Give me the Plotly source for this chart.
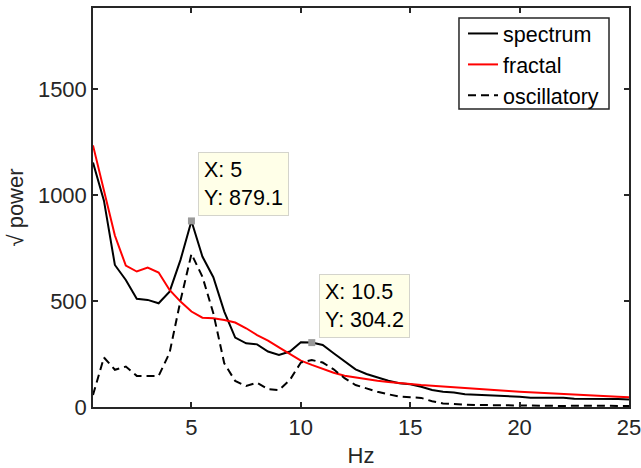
import plotly.graph_objects as go

freq = [0.5 * i for i in range(1, 51)]

spectrum = [1155, 975, 671, 600, 511, 506, 490, 545, 695, 879.1,
            711, 613, 451, 328, 301, 296, 262, 246, 262, 306,
            304.2, 293, 254, 214, 178, 156, 139, 124, 112, 107,
            96, 80, 72, 69, 60, 58, 55, 54, 52, 49,
            44, 44, 46, 44, 39, 39, 41, 39, 38, 36]

fractal = [1236, 1025, 810, 668, 640, 659, 635, 553, 498, 451,
           422, 419, 411, 399, 372, 340, 314, 282, 251, 219,
           199, 180, 162, 148, 139, 131, 124, 118, 112, 109,
           104, 100, 96, 93, 89, 85, 82, 79, 75, 72,
           69, 66, 63, 61, 58, 56, 53, 51, 48, 46]

oscillatory = [57, 234, 176, 191, 147, 147, 147, 256, 503, 723,
               616, 443, 206, 123, 99, 115, 84, 80, 128, 210,
               222, 210, 178, 136, 104, 88, 72, 60, 49, 46,
               43, 27, 17, 14, 10, 9, 9, 8, 8, 7,
               6, 6, 5, 5, 6, 6, 7, 6, 6, 5]

tip_indices = [9, 20]

x_ticks = [5, 10, 15, 20, 25]
y_ticks = [0, 500, 1000, 1500]

FONT = "Liberation Sans, Arial, Helvetica, sans-serif"
AX = "#262626"
FS = 22

fig = go.Figure()
fig.add_trace(go.Scatter(x=freq, y=spectrum, mode="lines", name="spectrum",
                         line=dict(color="black", width=2)))
fig.add_trace(go.Scatter(x=freq, y=fractal, mode="lines", name="fractal",
                         line=dict(color="#FF0000", width=2)))
fig.add_trace(go.Scatter(x=freq, y=oscillatory, mode="lines", name="oscillatory",
                         line=dict(color="black", width=2, dash="8px,5px")))

tx = [freq[i] for i in tip_indices]
ty = [spectrum[i] for i in tip_indices]
fig.add_trace(go.Scatter(x=tx, y=ty, mode="markers", showlegend=False,
                         marker=dict(symbol="square", size=7, color="#9A9A9A",
                                     line=dict(width=0))))

for xv, yv in zip(tx, ty):
    xs = f"{xv:g}"
    ys = f"{yv:.1f}"
    fig.add_annotation(x=xv, y=yv, xref="x", yref="y",
                       text=f"X: {xs}<br>Y: {ys}", showarrow=False,
                       xanchor="left", yanchor="bottom", align="left",
                       xshift=7, yshift=5,
                       bgcolor="#FFFFE8", bordercolor="#D4D4CC", borderwidth=1,
                       borderpad=5,
                       font=dict(family=FONT, size=21.5, color="black"))

# legend frame (MATLAB-style tight box)
fig.add_shape(type="rect", xref="paper", yref="paper",
              x0=0.6828, x1=0.9627, y0=0.7469, y1=0.975,
              line=dict(color="#262626", width=1.5), fillcolor="white",
              layer="above")

fig.update_layout(
    width=641, height=468,
    margin=dict(l=93, r=12, t=8, b=61, autoexpand=False),
    paper_bgcolor="white", plot_bgcolor="white",
    font=dict(family=FONT, size=FS, color=AX),
    showlegend=True,
    legend=dict(x=0.6903, y=0.9875, xanchor="left", yanchor="top",
                bgcolor="rgba(0,0,0,0)", borderwidth=0,
                font=dict(family=FONT, size=21.5, color="black"),
                tracegroupgap=0, itemwidth=30),
)
fig.update_xaxes(range=[0.5, 25], tickvals=x_ticks, ticks="inside", ticklen=5,
                 tickwidth=1.5, tickcolor=AX, showline=True, linecolor=AX,
                 linewidth=1.5, mirror="ticks", showgrid=False, zeroline=False,
                 automargin=False, ticklabeloverflow="allow",
                 title=dict(text="Hz", font=dict(family=FONT, size=FS, color=AX),
                            standoff=14),
                 tickfont=dict(family=FONT, size=FS, color=AX))
fig.update_yaxes(range=[0, 1885], tickvals=y_ticks, ticks="inside", ticklen=5,
                 tickwidth=1.5, tickcolor=AX, showline=True, linecolor=AX,
                 linewidth=1.5, mirror="ticks", showgrid=False, zeroline=False,
                 automargin=False, ticklabeloverflow="allow",
                 title=dict(text="√ power", font=dict(family=FONT, size=FS, color=AX),
                            standoff=8),
                 tickfont=dict(family=FONT, size=FS, color=AX))

fig.write_html("out.html", config={"displayModeBar": False},
               post_script="document.body.style.margin='0';")
